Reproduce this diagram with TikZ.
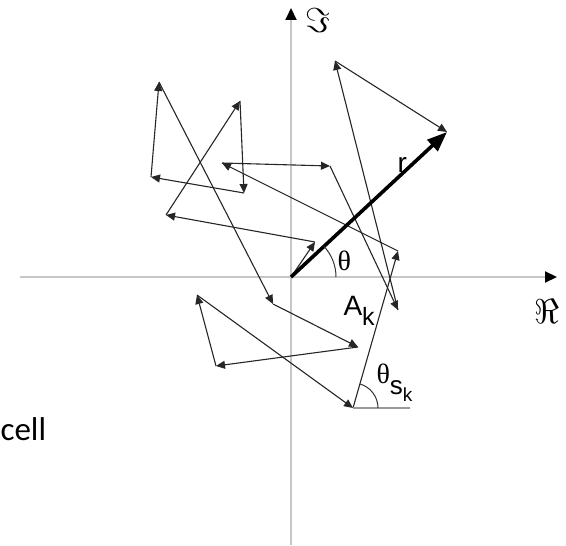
\documentclass[tikz,border=0pt]{standalone}
\usepackage{fontspec}
\setmainfont{Liberation Sans}
\newfontfamily\greekfont{Liberation Serif}
\newfontfamily\cellfont{Carlito}
\usetikzlibrary{arrows.meta}

\begin{document}
\begin{tikzpicture}[x=0.5pt, y=-0.5pt, >={Triangle[length=4.5pt,width=4pt]}, line width=0.55pt]
\tikzset{
	axisline/.style={draw=black!22, line width=1pt, -{Triangle[length=6pt,width=5.5pt,color=black]}},
	phasor/.style={draw=black!85, ->},
	resultant/.style={draw=black, line width=1.8pt, -{Triangle[length=10pt,width=7.5pt]}},
	anglearc/.style={draw=black!80, line width=0.5pt},
	lbl/.style={inner sep=0pt, anchor=base west}
}
\useasboundingbox (0,0) rectangle (566,545);

% axes
\coordinate (xl) at (20,277);
\coordinate (xr) at (557,277);
\coordinate (yb) at (291,545);
\coordinate (yt) at (291,8);
\draw[axisline] (xl) -- (xr);
\draw[axisline] (yb) -- (yt);

% phasor tips, head to tail
\coordinate (p0) at (291,277);
\coordinate (p1) at (315,242);
\coordinate (p2) at (166,215);
\coordinate (p3) at (240,101);
\coordinate (p4) at (244,193);
\coordinate (p5) at (151,177);
\coordinate (p6) at (159,82);
\coordinate (p7) at (273,304);
\coordinate (p8) at (358,347);
\coordinate (p9) at (216,366);
\coordinate (p10) at (197,295);
\coordinate (p11) at (353,408);
\coordinate (p12) at (398,251);
\coordinate (p13) at (222,163);
\coordinate (p14) at (330,166);
\coordinate (p15) at (398,310);
\coordinate (p16) at (335,61);
\coordinate (p17) at (447,132);
\coordinate (ref) at (410,408);

\foreach \i [count=\j from 1] in {0,...,16}
	\draw[phasor] (p\i) -- (p\j);

\draw[resultant] (p0) -- (p17);

% angles
\draw[anglearc] (p0) ++(45,0) arc[start angle=0, end angle=-43, radius=45];
\draw[draw=black!40] (p11) -- (ref);
\draw[anglearc] (p11) ++(25,0) arc[start angle=0, end angle=-74, radius=25];

% labels
\node[inner sep=0pt] (im) at (318,21) {\fontsize{17}{17}\selectfont$\Im$};
\node[inner sep=0pt] (re) at (547,311) {\fontsize{17}{17}\selectfont$\Re$};
\node[lbl] (th) at (337,270) {\fontsize{14}{14}\selectfont\greekfont θ};
\node[lbl] (r) at (397,173) {\fontsize{14}{14}\selectfont r};
\node[lbl] (ak) at (343,315) {\fontsize{14}{14}\selectfont A\raisebox{-5pt}{\fontsize{12.5}{12.5}\selectfont k}};
\node[lbl] (ths) at (376,383) {\fontsize{14}{14}\selectfont{\greekfont θ}\raisebox{-5.5pt}{\fontsize{13}{13}\selectfont s\raisebox{-3.5pt}{\fontsize{9.5}{9.5}\selectfont k}}};
\node[lbl] (cell) at (0,440) {\fontsize{16.5}{16.5}\selectfont\cellfont cell};

\end{tikzpicture}
\end{document}
